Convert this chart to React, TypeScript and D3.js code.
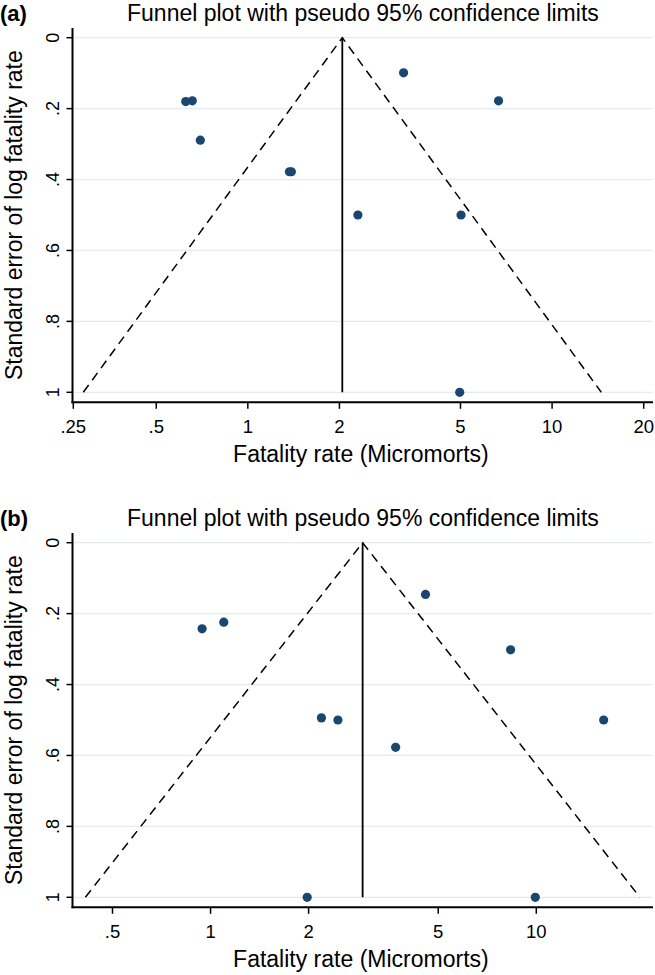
import React from "react";
import * as d3 from "d3";

// ---------- Data ----------
const panelARates = [0.625, 0.657, 0.698, 1.37, 1.39, 3.25, 6.67, 2.3, 5.02, 4.97];
const panelASE = [0.18, 0.178, 0.289, 0.378, 0.378, 0.099, 0.178, 0.5, 0.5, 1.0];
const panelACenter = 2.044;
const panelAXTicks = [0.25, 0.5, 1, 2, 5, 10, 20];
const panelAXTickLabels = [".25", ".5", "1", "2", "5", "10", "20"];
const panelAXDomain = [0.2669, 21.38];

const panelBRates = [0.942, 1.098, 4.57, 8.34, 2.19, 2.46, 3.7, 16.1, 1.98, 9.93];
const panelBSE = [0.243, 0.224, 0.146, 0.302, 0.494, 0.5, 0.577, 0.5, 1.0, 1.0];
const panelBCenter = 2.93;
const panelBXTicks = [0.5, 1, 2, 5, 10];
const panelBXTickLabels = [".5", "1", "2", "5", "10"];
const panelBXDomain = [0.379, 22.74];

const yTicks = [0, 0.2, 0.4, 0.6, 0.8, 1];
const yTickLabels = ["0", ".2", ".4", ".6", ".8", "1"];
const seMax = 1;
const z95 = 1.96;

const panelTags = ["(a)", "(b)"];
const titleText = "Funnel plot with pseudo 95% confidence limits";
const xTitle = "Fatality rate (Micromorts)";
const yTitle = "Standard error of log fatality rate";

// ---------- Styles ----------
const FONT = "'Liberation Sans', Arial, Helvetica, sans-serif";
const DOT = "#1a476f";
const GRID = "#e2ebee";

type PanelProps = {
  tag: string;
  rates: number[];
  se: number[];
  center: number;
  xTicks: number[];
  xTickLabels: string[];
  xDomain: number[];
  top: number; // y offset of panel
};

const X_LEFT = 73.3;
const X_RIGHT = 652.5;

function Panel({ tag, rates, se, center, xTicks, xTickLabels, xDomain, top }: PanelProps) {
  const tagY = top + 20.5;
  const plotTop = top + 28;
  const y0 = top + 37.7;
  const y1 = top + 392.3;
  const axisY = top + 402.3;

  const x = d3.scaleLog().domain(xDomain).range([X_LEFT, X_RIGHT]);
  const y = d3.scaleLinear().domain([0, seMax]).range([y0, y1]);
  const cx = (X_LEFT + X_RIGHT) / 2;

  const funnel: [number, number][] = [
    [center * Math.exp(-z95 * seMax), seMax],
    [center, 0],
    [center * Math.exp(z95 * seMax), seMax],
  ];
  const line = d3
    .line<[number, number]>()
    .x((d) => x(d[0]))
    .y((d) => y(d[1]));

  const yMid = (plotTop + axisY) / 2;

  return (
    <g>
      <text x={0} y={tagY} fontFamily={FONT} fontWeight="bold" fontSize={22} fill="#000">
        {tag}
      </text>
      <text
        x={cx}
        y={tagY}
        fontFamily={FONT}
        fontSize={23}
        textAnchor="middle"
        fill="#000"
      >
        {titleText}
      </text>

      {/* gridlines */}
      {yTicks.map((t) => (
        <line key={"g" + t} x1={X_LEFT} x2={X_RIGHT} y1={y(t)} y2={y(t)} stroke={GRID} strokeWidth={1.2} />
      ))}

      {/* funnel */}
      <path d={line(funnel) || ""} fill="none" stroke="#000" strokeWidth={1.5} strokeDasharray="9,6" />
      <line x1={x(center)} x2={x(center)} y1={y(0)} y2={y(seMax)} stroke="#000" strokeWidth={1.8} />

      {/* points */}
      {rates.map((r, i) => (
        <circle key={"p" + i} cx={x(r)} cy={y(se[i])} r={4.6} fill={DOT} />
      ))}

      {/* y axis */}
      <line x1={72.5} x2={72.5} y1={plotTop} y2={axisY + 1} stroke="#000" strokeWidth={2} />
      {yTicks.map((t, i) => (
        <g key={"yt" + t}>
          <line x1={66.5} x2={72.5} y1={y(t)} y2={y(t)} stroke="#000" strokeWidth={1.5} />
          <text
            transform={`translate(58.5,${y(t)}) rotate(-90)`}
            textAnchor="middle"
            fontFamily={FONT}
            fontSize={18}
            fill="#000"
          >
            {yTickLabels[i]}
          </text>
        </g>
      ))}
      <text
        transform={`translate(21.5,${yMid}) rotate(-90)`}
        textAnchor="middle"
        fontFamily={FONT}
        fontSize={23}
        fill="#000"
      >
        {yTitle}
      </text>

      {/* x axis */}
      <line x1={71.5} x2={X_RIGHT + 0.5} y1={axisY} y2={axisY} stroke="#000" strokeWidth={2} />
      {xTicks.map((t, i) => {
        const px = x(Math.max(t, xDomain[0]));
        return (
          <g key={"xt" + t}>
            <line x1={px} x2={px} y1={axisY} y2={axisY + 6.5} stroke="#000" strokeWidth={1.5} />
            <text x={px} y={axisY + 30.5} textAnchor="middle" fontFamily={FONT} fontSize={18.5} fill="#000">
              {xTickLabels[i]}
            </text>
          </g>
        );
      })}
      <text x={cx - 2} y={axisY + 60} textAnchor="middle" fontFamily={FONT} fontSize={23} fill="#000">
        {xTitle}
      </text>
    </g>
  );
}

export default function App() {
  return (
    <svg
      width={655}
      height={975}
      viewBox="0 0 655 975"
      style={{ position: "absolute", left: 0, top: 0, background: "#fff" }}
    >
      <rect x={0} y={0} width={655} height={975} fill="#fff" />
      <Panel
        tag={panelTags[0]}
        rates={panelARates}
        se={panelASE}
        center={panelACenter}
        xTicks={panelAXTicks}
        xTickLabels={panelAXTickLabels}
        xDomain={panelAXDomain}
        top={0}
      />
      <Panel
        tag={panelTags[1]}
        rates={panelBRates}
        se={panelBSE}
        center={panelBCenter}
        xTicks={panelBXTicks}
        xTickLabels={panelBXTickLabels}
        xDomain={panelBXDomain}
        top={505}
      />
    </svg>
  );
}
